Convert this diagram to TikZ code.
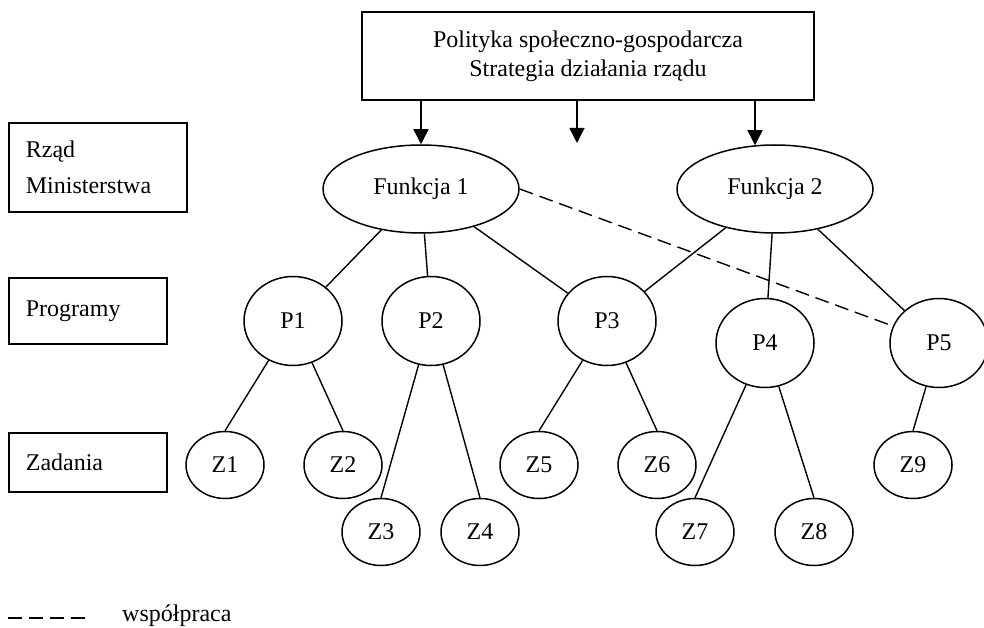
\documentclass[tikz,border=0pt]{standalone}
\usepackage{fontspec}
\setmainfont{Liberation Serif}
\usetikzlibrary{positioning, arrows.meta, calc}
\usetikzlibrary{shapes.geometric}
\tikzset{box/.style={draw, rectangle, line width=1.7pt},
	lvl/.style={box, anchor=north west, align=left, inner xsep=17pt, inner ysep=0pt},
	oval/.style={draw, ellipse, line width=1.5pt, inner sep=0pt},
	func/.style={oval, minimum width=196pt, minimum height=88pt},
	prog/.style={oval, minimum width=98pt, minimum height=89pt},
	task/.style={oval, minimum width=78pt, minimum height=67pt},
	link/.style={line width=1.4pt},
	coop/.style={link, dash pattern=on 14pt off 7pt},
	down/.style={link, -{Triangle[length=15pt, width=15pt]}}}

\begin{document}
\begin{tikzpicture}[x=1pt, y=-1pt, font=\fontsize{24}{29}\selectfont]
		\useasboundingbox (0,0) rectangle (984,628);
		\node[box, minimum width=452pt, minimum height=88pt, align=center] (top) at (588,56)
			{Polityka społeczno-gospodarcza\\Strategia działania rządu};
		\node[lvl, text width=144pt, minimum height=89pt] (rzad) at (8,122) {Rząd\\[7pt]Ministerstwa};
		\node[lvl, text width=124pt, minimum height=66pt] (prg) at (8,277) {Programy\\[6pt]};
		\node[lvl, text width=124pt, minimum height=59pt] (zad) at (8,432) {Zadania};

		\node[func] (F1) at (421,189) {Funkcja 1};
		\node[func] (F2) at (775,189) {Funkcja 2};
		\foreach \n/\x/\y in {1/293/321, 2/431/321, 3/607/321, 4/765/343, 5/939/343}
		  \node[prog] (P\n) at (\x,\y) {P\n};
		\foreach \n/\x/\y in {1/225/465, 2/343/465, 3/381/532, 4/480/532, 5/539/465,
		   6/657/465, 7/695/532, 8/814/532, 9/913/465}
		  \node[task] (Z\n) at (\x,\y) {Z\n};

		\coordinate (mid) at (577,143);
		\draw[down] (top.south -| F1.north) -- (F1.north);
		\draw[down] (top.south -| mid) -- (mid);
		\draw[down] ($(top.south -| F2.north)+(-20,0)$) -- ($(F2.north)+(-20,1)$);

		\foreach \p in {1,2,3}{
		  \draw[link] (F1) -- (P\p);
		  \draw[link] (F2) -- (P\the\numexpr\p+2\relax);
		}
		\draw[coop] (F1.east) -- (P5);
		\foreach \p/\z in {1/1, 1/2, 2/3, 2/4, 3/5, 3/6, 4/7, 4/8, 5/9}
		  \draw[link] (P\p) -- (Z\z.north);

		\coordinate (legA) at (8,618);
		\coordinate (legB) at (88,618);
		\draw[coop] (legA) -- (legB);
		\node[anchor=west, inner sep=0pt] (leg) at (122,616) {współpraca};
	\end{tikzpicture}
\end{document}
